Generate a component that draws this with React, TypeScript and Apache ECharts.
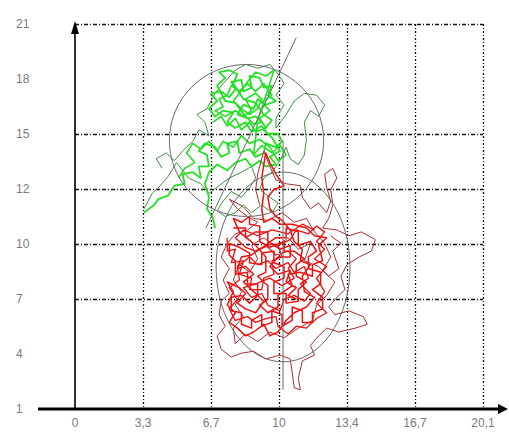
import React, { useEffect, useRef } from "react";
import * as echarts from "echarts";

// ---- axes (original units) ----
const X_MIN = 0;
const X_MAX = 20.1;
const X_STEP = 3.35;
const Y_MIN = 1;
const Y_MAX = 21;
const Y_STEP = 20 / 7;
const X_TICK_LABELS = ["0", "3,3", "6,7", "10", "13,4", "16,7", "20,1"];
const Y_TICK_LABELS = ["1", "4", "7", "10", "12", "15", "18", "21"];
const X_GRID_VISIBLE = [false, true, true, true, true, true, true];
const Y_GRID_VISIBLE = [false, false, true, true, true, true, false, true];

// ---- green walk ----
const greenOuter: number[][] = [
  [4.3, 13.5], [4.0, 14.0], [4.5, 14.3], [4.9, 13.9], [5.3, 14.4], [5.8, 14.9], [6.1, 15.5], [6.6, 15.2],
  [6.4, 15.9], [6.0, 16.3], [6.5, 16.6], [6.9, 17.4], [7.3, 17.9], [7.9, 18.6], [8.4, 18.9], [9.0, 18.7],
  [9.6, 18.9], [10.0, 18.4], [10.3, 17.9], [9.9, 17.3], [10.3, 16.8], [9.9, 16.1], [9.9, 15.6], [10.4, 16.3],
  [10.8, 17.0], [11.3, 17.4], [11.9, 17.3], [12.3, 16.8], [12.0, 16.2], [11.6, 16.5], [11.3, 15.9], [11.4, 15.0],
  [11.3, 14.2], [11.0, 13.7], [10.6, 14.0], [10.4, 14.6], [10.1, 13.9], [9.7, 13.3], [9.3, 13.0], [9.1, 12.4],
  [9.6, 12.0], [10.0, 11.7], [9.7, 11.2], [9.2, 11.6], [8.7, 11.2], [8.3, 11.6], [7.9, 11.2], [7.4, 11.0],
  [7.0, 11.3], [7.3, 11.8], [7.7, 12.3], [8.2, 12.0], [8.6, 12.5], [8.9, 13.0], [8.7, 13.6], [8.2, 13.3],
  [7.6, 13.0], [7.1, 12.6], [6.6, 12.2], [6.2, 12.7], [5.6, 13.0], [5.0, 13.8], [4.6, 13.1], [4.2, 12.6],
  [3.8, 12.2], [3.4, 11.4],
];
const greenCore: number[][] = [
  [3.4, 11.2], [3.9, 11.6], [4.1, 11.9], [4.6, 12.1], [4.9, 12.6], [5.4, 12.7], [5.3, 13.2], [5.8, 13.3],
  [6.2, 13.0], [6.1, 13.6], [6.6, 13.6], [6.5, 14.2], [6.1, 14.4], [6.4, 14.8], [6.9, 14.6], [7.2, 14.1],
  [7.6, 14.3], [7.5, 14.8], [8.0, 14.9], [8.1, 14.3], [8.6, 14.5], [8.9, 14.1], [9.3, 14.3], [9.4, 14.8],
  [9.9, 14.6], [10.2, 14.9], [10.0, 15.3], [9.5, 15.3], [9.2, 15.7], [8.7, 15.4], [8.4, 15.9], [7.9, 15.6],
  [7.5, 15.9], [7.8, 16.4], [7.3, 16.5], [6.9, 16.2], [6.6, 16.6], [7.0, 17.0], [6.7, 17.4], [7.2, 17.5],
  [7.6, 17.2], [7.9, 17.6], [7.7, 18.0], [8.2, 18.1], [8.3, 17.5], [8.7, 17.7], [8.6, 18.3], [9.1, 18.2],
  [9.3, 17.7], [9.7, 17.8], [9.5, 17.3], [9.9, 17.0], [9.4, 16.8], [9.0, 17.1], [8.8, 16.6], [8.3, 16.8],
  [8.0, 16.3], [8.5, 16.1], [8.9, 16.2], [9.2, 15.9], [8.8, 15.8], [8.4, 16.2], [7.9, 16.9], [7.4, 17.0],
  [7.0, 17.8], [7.4, 18.2], [7.1, 18.5], [7.6, 18.6], [8.0, 18.4], [7.8, 17.9], [8.3, 17.1], [8.9, 16.9],
  [9.3, 16.3], [9.7, 16.0], [9.3, 15.5], [9.7, 15.1], [10.1, 14.4], [9.6, 14.1], [9.9, 13.7], [9.4, 13.6],
  [9.1, 13.9], [8.7, 13.6], [8.4, 14.0], [7.9, 13.8], [7.5, 13.4], [7.0, 13.7], [6.6, 13.3], [6.4, 12.7],
  [6.6, 12.0], [6.5, 11.4], [6.8, 10.9], [6.9, 10.4],
];
const greenCore2: number[][] = [
  [6.8, 15.9], [7.2, 16.2], [7.5, 15.7], [7.9, 16.1], [8.2, 15.5], [8.6, 15.9], [8.9, 15.4], [9.4, 15.6],
  [9.1, 16.1], [9.6, 16.5], [9.2, 16.9], [9.7, 17.3], [9.3, 17.9], [8.9, 17.5], [8.5, 17.9], [8.1, 17.5],
  [7.7, 17.8], [7.5, 17.3], [7.1, 17.1], [7.3, 16.7], [6.9, 16.5], [7.4, 16.2], [7.9, 16.5], [8.3, 16.2],
  [8.7, 16.5], [8.4, 17.1], [8.9, 17.4], [9.2, 17.1], [9.0, 16.6], [8.6, 16.3], [8.2, 16.6], [7.8, 17.0],
  [8.1, 17.4], [8.5, 18.0], [8.9, 18.5], [9.4, 18.3], [9.8, 18.6], [9.5, 17.6], [9.0, 16.0], [8.8, 14.2],
  [9.2, 14.7], [9.7, 14.3], [10.1, 14.7], [10.4, 14.2], [10.0, 13.9], [9.6, 14.6], [9.1, 15.0], [8.6, 14.8],
  [8.2, 15.2], [7.8, 14.6], [7.3, 14.9], [7.0, 14.4], [6.6, 14.9], [6.2, 14.5], [5.8, 14.8], [5.5, 14.3],
  [5.9, 13.8], [5.4, 13.5], [5.1, 13.0],
];

// ---- red walk ----
const redOuter: number[][] = [
  [9.1, 11.6], [8.9, 12.4], [9.0, 13.2], [9.3, 14.4], [9.6, 13.6], [9.9, 12.9], [10.4, 12.7], [11.1, 12.6],
  [11.2, 12.0], [11.6, 11.4], [12.0, 11.7], [12.4, 11.2], [12.6, 11.8], [12.4, 12.5], [12.3, 13.2], [12.7, 13.5],
  [12.9, 13.0], [12.6, 12.4], [12.7, 11.6], [12.5, 10.9], [12.2, 10.4], [12.9, 10.3], [13.5, 10.0], [14.1, 10.2],
  [14.8, 9.8], [14.6, 9.2], [14.0, 8.9], [13.4, 8.5], [13.1, 7.9], [13.3, 7.2], [12.9, 6.8], [12.5, 6.3],
  [12.8, 5.9], [13.5, 6.1], [14.2, 5.8], [14.4, 5.4], [13.8, 5.2], [13.0, 5.0], [12.4, 5.2], [12.0, 4.8],
  [11.6, 4.3], [11.8, 3.8], [11.2, 3.5], [11.0, 2.6], [11.1, 2.0], [10.8, 2.1], [10.7, 2.9], [10.6, 3.6],
  [10.1, 3.8], [9.4, 3.6], [8.8, 4.0], [8.2, 3.9], [7.7, 3.7], [7.2, 4.1], [7.0, 4.8], [7.4, 5.3],
  [7.1, 5.9], [7.2, 6.6], [7.6, 7.0], [7.3, 7.7], [7.6, 8.3], [7.2, 8.9], [7.5, 9.6], [7.9, 10.1],
  [8.5, 10.3], [9.0, 10.7], [8.5, 11.0], [8.0, 11.4], [7.6, 11.9], [8.3, 11.5], [8.8, 10.9], [9.5, 10.8],
  [10.2, 11.2], [10.8, 10.7], [11.4, 10.9], [11.8, 10.2], [12.3, 9.6], [12.6, 8.9], [12.2, 8.2], [12.8, 7.6],
  [12.4, 6.9], [11.9, 6.4], [11.7, 5.6], [11.0, 5.2], [10.3, 4.7], [9.6, 5.0], [9.0, 4.5], [8.4, 4.9],
  [7.9, 4.4], [7.8, 5.2], [8.3, 5.8], [7.9, 6.4], [8.2, 7.1], [7.8, 7.7], [8.1, 8.5], [8.6, 8.1],
  [9.0, 8.8], [8.7, 9.5], [9.3, 9.9], [9.9, 9.4], [10.5, 9.9], [11.0, 9.3], [11.6, 9.6], [11.3, 8.7],
  [12.0, 8.4], [12.5, 7.9], [13.0, 8.3], [12.7, 9.2], [13.1, 9.6], [12.6, 10.0],
];
const redCore: number[][] = [
  [7.8, 10.4], [8.4, 10.4], [8.4, 9.9], [8.9, 10.2], [9.5, 10.2], [9.5, 9.6], [9.9, 9.9], [10.4, 9.9],
  [10.4, 10.4], [11.0, 10.2], [11.0, 9.5], [11.6, 9.7], [11.9, 9.2], [11.5, 8.9], [11.5, 8.3], [12.1, 8.1],
  [12.1, 7.5], [11.7, 7.2], [12.2, 6.8], [12.2, 6.2], [11.7, 6.0], [11.7, 5.5], [11.2, 5.5], [11.2, 6.1],
  [10.7, 6.3], [10.7, 5.6], [10.2, 5.3], [10.2, 5.9], [9.7, 6.1], [9.7, 5.5], [9.2, 5.3], [9.2, 5.9],
  [8.7, 5.6], [8.7, 5.2], [8.2, 5.4], [8.2, 6.0], [7.7, 6.1], [7.7, 6.8], [8.2, 6.9], [8.6, 6.5],
  [9.0, 6.9], [9.0, 7.5], [8.5, 7.5], [8.5, 8.1], [7.9, 8.0], [7.9, 8.7], [7.6, 9.0], [7.6, 9.6],
  [8.1, 9.4], [8.6, 9.1], [8.6, 8.6], [9.2, 8.5], [9.2, 9.1], [9.8, 9.2], [9.8, 8.6], [10.3, 8.4],
  [10.3, 7.8], [9.8, 7.6], [9.8, 7.0], [10.4, 7.0], [10.4, 6.5], [11.0, 6.6], [11.0, 7.2], [11.4, 7.6],
  [10.9, 7.9], [10.9, 8.5], [11.3, 8.8], [10.8, 9.2], [10.3, 9.2], [10.3, 9.7], [9.6, 9.4], [9.1, 9.7],
  [9.1, 10.5], [8.6, 10.6], [8.6, 11.0], [8.2, 10.7], [7.8, 10.9], [8.1, 10.2], [8.9, 9.5], [9.4, 8.9],
  [9.4, 8.1], [9.0, 7.9], [9.5, 7.4], [9.5, 6.7], [9.1, 6.4], [9.5, 6.0], [10.0, 6.3], [10.0, 6.9],
  [10.7, 7.4], [10.5, 8.0], [11.1, 8.1], [11.7, 7.9], [11.7, 8.5], [12.2, 8.7], [12.0, 9.5], [12.4, 9.9],
  [11.8, 10.0], [11.4, 10.4], [10.7, 10.6], [10.1, 10.6], [9.7, 10.9], [9.3, 10.7], [9.2, 11.4], [9.3, 12.2],
  [9.2, 13.0], [9.3, 13.7], [9.4, 14.3], [9.6, 13.8], [9.9, 13.2], [10.3, 12.6], [9.8, 12.4], [9.5, 12.0],
  [9.6, 11.4], [9.9, 11.0], [10.2, 10.8], [10.6, 10.3], [10.8, 9.7], [11.2, 9.3], [11.1, 8.7], [11.6, 8.5],
  [11.2, 7.9], [11.3, 7.1], [11.8, 6.8], [11.4, 6.3], [10.8, 6.0], [10.4, 5.6], [10.0, 5.0], [9.6, 4.8],
  [9.3, 5.4], [8.8, 5.0], [8.4, 4.8], [8.0, 5.2], [7.6, 5.5], [7.9, 6.0], [7.5, 6.4], [7.8, 7.1],
  [7.5, 7.6], [8.1, 7.3], [8.4, 7.0], [8.0, 6.5], [8.4, 6.2], [8.9, 6.0], [9.3, 6.6], [8.8, 7.1],
  [8.3, 7.6], [8.8, 8.0], [8.4, 8.4], [8.0, 8.3], [8.2, 8.9], [8.7, 9.0], [9.1, 9.3], [9.7, 9.6],
  [10.1, 9.3], [10.6, 9.5], [10.6, 8.9], [10.0, 8.9], [9.6, 8.4], [10.0, 8.0], [10.6, 8.2], [10.4, 7.6],
  [10.9, 7.3], [10.5, 6.9], [10.9, 6.7],
];
const redCore2: number[][] = [
  [7.5, 9.9], [7.5, 9.2], [7.9, 9.3], [7.7, 8.6], [8.3, 8.7], [8.1, 8.0], [8.7, 7.8], [8.6, 7.2],
  [9.2, 7.2], [9.3, 7.8], [9.8, 8.0], [9.7, 8.7], [10.2, 8.9], [10.0, 9.5], [10.6, 9.8], [10.9, 10.3],
  [11.5, 10.1], [11.9, 10.5], [12.3, 10.2], [11.9, 9.7], [12.3, 9.3], [11.8, 8.8], [12.4, 8.4], [11.9, 7.8],
  [12.3, 7.1], [11.9, 6.5], [12.4, 6.0], [11.9, 5.7], [11.4, 5.2], [10.9, 5.3], [10.5, 4.9], [10.0, 5.3],
  [9.9, 5.8], [9.4, 5.7], [8.9, 5.5], [8.5, 5.8], [7.9, 5.6], [7.6, 6.2], [8.0, 6.7], [7.6, 7.3],
  [8.1, 7.7], [8.0, 8.4], [8.6, 8.9], [9.0, 8.5], [9.5, 8.7], [9.9, 8.3], [10.5, 8.6], [10.8, 8.1],
  [11.3, 8.4], [11.5, 7.8], [11.1, 7.5], [11.6, 7.0], [11.3, 6.6], [10.8, 6.9], [10.3, 6.7], [10.1, 6.1],
  [9.5, 6.4], [9.2, 7.0], [8.7, 6.8], [8.3, 7.3], [8.9, 7.5], [9.6, 7.8], [10.2, 7.4], [10.8, 7.8],
  [10.5, 8.3], [10.9, 8.8], [10.5, 9.2], [9.9, 9.0], [9.4, 9.5], [8.9, 9.2], [8.4, 9.4], [7.9, 9.9],
  [8.3, 10.3], [9.0, 10.0], [9.7, 10.3], [10.5, 10.1], [11.2, 10.6], [11.8, 10.3],
];

// ---- fitted ellipses: [cx, cy, rx, ry] and their main axes ----
const ellipses: number[][] = [
  [8.45, 14.95, 3.8, 3.95],
  [10.25, 8.38, 3.3, 4.93],
];
const greenAxis: number[][] = [[10.9, 20.3], [6.45, 10.4]];
const redAxis: number[][] = [[10.25, 14.95], [10.25, 2.0]];

// layout
const W = 509;
const H = 432;
const GRID = { left: 75, right: 26, top: 24, bottom: 23 };

const sc = (p: number[]) => [(p[0] - X_MIN) / X_STEP, (p[1] - Y_MIN) / Y_STEP];

export default function App() {
  const ref = useRef<HTMLDivElement>(null);
  useEffect(() => {
    if (!ref.current) return;
    const chart = echarts.init(ref.current, null, { renderer: "svg" });
    const xCount = Math.round((X_MAX - X_MIN) / X_STEP);
    const yCount = Math.round((Y_MAX - Y_MIN) / Y_STEP);
    const gridBottomY = H - GRID.bottom;
    const none = "rgba(0,0,0,0)";
    const lineSeries = (name: string, data: number[][], color: string, width: number, z: number) => ({
      name,
      type: "line",
      data: data.map(sc),
      showSymbol: false,
      symbol: "none",
      z,
      lineStyle: { color, width, join: "round" },
      silent: true,
    });
    const labelStyle = {
      color: "#7a7a7a",
      fontSize: 12,
      fontFamily: "Liberation Sans, Arial, sans-serif",
    };
    chart.setOption({
      animation: false,
      backgroundColor: "#ffffff",
      grid: { ...GRID },
      xAxis: {
        type: "value",
        min: 0,
        max: xCount,
        interval: 1,
        axisLine: { show: false },
        axisTick: { show: false },
        axisLabel: {
          ...labelStyle,
          margin: 8,
          formatter: (v: number) => X_TICK_LABELS[Math.round(v)] ?? "",
        },
        splitLine: {
          show: true,
          lineStyle: {
            color: X_GRID_VISIBLE.map((s) => (s ? "#111" : none)),
            width: 1.3,
            type: [2, 2, 1, 2],
          },
        },
      },
      yAxis: {
        type: "value",
        min: 0,
        max: yCount,
        interval: 1,
        axisLine: { show: false },
        axisTick: { show: false },
        axisLabel: {
          ...labelStyle,
          align: "left",
          margin: 59,
          formatter: (v: number) => Y_TICK_LABELS[Math.round(v)] ?? "",
        },
        splitLine: {
          show: true,
          lineStyle: {
            color: Y_GRID_VISIBLE.map((s) => (s ? "#111" : none)),
            width: 1.3,
            type: [4, 2, 1, 2],
          },
        },
      },
      graphic: [
        {
          type: "line",
          shape: { x1: 38, y1: gridBottomY, x2: W - 6, y2: gridBottomY },
          style: { stroke: "#000", lineWidth: 3 },
          z: 100,
        },
        {
          type: "polygon",
          shape: { points: [[W - 11, gridBottomY - 5], [W - 1, gridBottomY], [W - 11, gridBottomY + 5]] },
          style: { fill: "#000" },
          z: 100,
        },
        {
          type: "line",
          shape: { x1: GRID.left, y1: gridBottomY, x2: GRID.left, y2: GRID.top + 6 },
          style: { stroke: "#000", lineWidth: 1.6 },
          z: 100,
        },
        {
          type: "polygon",
          shape: { points: [[GRID.left - 4, GRID.top + 10], [GRID.left, GRID.top - 3], [GRID.left + 4, GRID.top + 10]] },
          style: { fill: "#000" },
          z: 100,
        },
      ],
      series: [
        lineSeries("greenOuter", greenOuter, "#3f8f3f", 1, 2),
        lineSeries("greenCore", greenCore, "#22e022", 1.8, 3),
        lineSeries("greenCore2", greenCore2, "#22e022", 1.6, 3),
        lineSeries("redOuter", redOuter, "#a83030", 1, 4),
        lineSeries("redCore", redCore, "#ee1111", 1.5, 5),
        lineSeries("redCore2", redCore2, "#ee1111", 1.3, 5),
        {
          type: "custom",
          z: 6,
          silent: true,
          data: ellipses.map((e) => [sc(e)[0], sc(e)[1], e[2] / X_STEP, e[3] / Y_STEP]),
          renderItem: (_p: any, api: any) => {
            const c = api.coord([api.value(0), api.value(1)]);
            const s = api.size([api.value(2), api.value(3)]);
            return {
              type: "ellipse",
              shape: { cx: c[0], cy: c[1], rx: s[0], ry: s[1] },
              style: { fill: "none", stroke: "#6a6a6a", lineWidth: 1 },
            };
          },
        },
        lineSeries("greenAxis", greenAxis, "#6a6a6a", 1, 7),
        lineSeries("redAxis", redAxis, "#6a6a6a", 1, 7),
      ],
    });
    return () => chart.dispose();
  }, []);
  return (
    <div
      ref={ref}
      style={{ position: "fixed", left: 0, top: 0, width: W, height: H, background: "#fff" }}
    />
  );
}
